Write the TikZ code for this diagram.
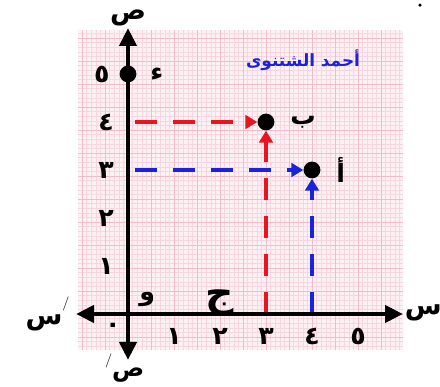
\documentclass[tikz,border=0pt]{standalone}
\usepackage{fontspec}
\usepackage{tikz}
\usetikzlibrary{arrows.meta,positioning}
\newfontfamily\arabicfont[Script=Arabic]{DejaVu Sans}
\TeXXeTstate=1
\definecolor{PaperPink}{HTML}{FDF1F4}
\definecolor{GridPink}{HTML}{F6D6E0}
\definecolor{GridPinkDark}{HTML}{EFBDCB}
\definecolor{Red}{HTML}{E8141E}
\definecolor{Blue}{HTML}{1A22DC}
\newcommand{\ar}[1]{{\arabicfont\bfseries\beginR #1\endR}}

\begin{document}
\begin{tikzpicture}[x=1.15cm,y=1.2cm,
    pt/.style={circle,fill=black,inner sep=0pt,minimum size=0.42cm},
    lab/.style={font=\fontsize{18}{21}\selectfont,inner sep=1pt},
    axlab/.style={font=\fontsize{19}{22}\selectfont,inner sep=1pt},
    proj/.style={line width=2.2pt,dash pattern=on 0.55cm off 0.4cm,-{Triangle[length=0.3cm,width=0.34cm]}},
    axis/.style={line width=3.4pt,{Triangle[length=0.45cm,width=0.42cm]}-{Triangle[length=0.45cm,width=0.42cm]}}]
  \useasboundingbox (-3.2cm,-1.825cm) rectangle (7.8cm,7.85cm);
  % graph paper
  \fill[PaperPink] (-1.25cm,-0.9cm) rectangle (6.875cm,7.1cm);
  \draw[GridPink,line width=0.3pt,step=0.115cm] (-1.25cm,-0.9cm) grid (6.875cm,7.1cm);
  \draw[GridPinkDark,line width=0.4pt,step=0.575cm] (-1.25cm,-0.9cm) grid (6.875cm,7.1cm);
  % points
  \node[pt] (A) at (4,3) {};
  \node[pt] (B) at (3,4) {};
  \node[pt] (D) at (0,5) {};
  \node[lab,right=0.35cm of A] (Alab) {\ar{أ}};
  \node[lab,right=0.35cm of B] (Blab) {\ar{ب}};
  \node[lab,right=0.3cm of D] (Dlab) {\ar{ء}};
  \node[lab,left=0.2cm of D] (five) {\ar{٥}};
  \coordinate (Ax) at (4,0);
  \coordinate (Ay) at (0.15,3);
  \coordinate (Bx) at (3,0);
  \coordinate (By) at (0.15,4);
  \draw[proj,Blue] (Ay) -- (A);
  \draw[proj,Blue] (Ax) -- (A);
  \draw[proj,Red] (By) -- (B);
  \draw[proj,Red] (Bx) -- (B);
  % axes
  \coordinate (xneg) at (-1.3cm,0);
  \coordinate (xpos) at (6.875cm,0);
  \coordinate (yneg) at (0,-1.15cm);
  \coordinate (ypos) at (0,7.15cm);
  \draw[axis] (xneg) -- (xpos);
  \draw[axis] (yneg) -- (ypos);
  \node[axlab] (xl) at (7.38cm,0.02cm) {\ar{س}};
  \node[axlab,left=0.12cm of xneg] (xnl) {\ar{س}\raisebox{1.4ex}{\fontsize{10}{10}\selectfont /}};
  \node[axlab,above=0cm of ypos] (yl) {\ar{ص}};
  \node[axlab,font=\fontsize{17}{20}\selectfont] (ynl) at (-0.08cm,-1.36cm) {\raisebox{1.2ex}{\fontsize{10}{10}\selectfont /}\ar{ص}};
  \node[pt,minimum size=0.09cm] (dot) at (7.3cm,7.72cm) {};
  \node[font=\fontsize{28}{30}\selectfont,inner sep=0pt] (C) at (2,0.22) {\ar{ج}};
  \node[lab] (O) at (0.48cm,0.35cm) {\ar{و}};
  \node[lab] (zero) at (-0.38cm,-0.35cm) {\ar{٠}};
  \foreach \n/\d in {1/١,2/٢,3/٣,4/٤,5/٥}
    \node[lab] (x\n) at (\n,-0.55cm) {\ar{\d}};
  \foreach \n/\d in {1/١,2/٢,3/٣,4/٤}
    \node[lab] (y\n) at (-0.55cm,\n) {\ar{\d}};
  \node[Blue,font=\fontsize{12}{14}\selectfont] (author) at (4.375cm,6.35cm) {\ar{أحمد الشتنوى}};
\end{tikzpicture}
\end{document}
